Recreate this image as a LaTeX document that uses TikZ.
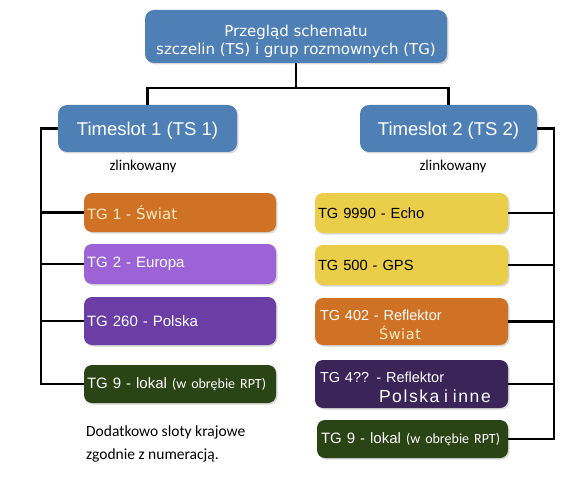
\documentclass[tikz,border=0pt]{standalone}
\usepackage{fontspec}
\setmainfont{Liberation Sans}
\newfontfamily\dejavu{DejaVu Sans}
\newfontfamily\carlito{Carlito}
\usetikzlibrary{shadows}
\definecolor{boxblue}{RGB}{79,128,181}
\definecolor{boxorange}{RGB}{207,114,38}
\definecolor{boxlpurple}{RGB}{156,99,214}
\definecolor{boxpurple}{RGB}{106,62,165}
\definecolor{boxdpurple}{RGB}{59,36,88}
\definecolor{boxgreen}{RGB}{43,68,22}
\definecolor{boxyellow}{RGB}{234,205,72}
\definecolor{cream}{RGB}{250,235,190}
\newcommand\lowerby[2]{\raisebox{-#1}[\height][\depth]{#2}}
\tikzset{
  x=1pt, y=-1pt,
  shadowed/.style={drop shadow={opacity=0.3, shadow xshift=1.5pt, shadow yshift=-1.5pt}},
  bluebox/.style={shadowed, rectangle, rounded corners=9pt, fill=boxblue, text=white, inner sep=0pt, align=center},
  tgbox/.style={shadowed, rectangle, rounded corners=8pt, inner xsep=3pt, inner ysep=0pt, align=left,
    font=\fontsize{15}{19}\selectfont, text=white},
  conn/.style={draw=black, line width=2.2pt},
  note/.style={inner sep=0pt, font=\carlito\fontsize{15}{18}\selectfont, align=left}
}
\begin{document}
\begin{tikzpicture}
\useasboundingbox (0,0) rectangle (588,481);
\fill[white] (0,0) rectangle (588,481);

% top box
\node[bluebox, minimum width=302pt, minimum height=53pt,
      font=\dejavu\fontsize{15}{18}\selectfont] (top) at (296,36.5)
  {\lowerby{5pt}{\parbox{300pt}{\centering Przegląd schematu\\ szczelin (TS) i grup rozmownych (TG)}}};

% timeslot boxes
\node[bluebox, minimum width=179pt, minimum height=47pt, font=\fontsize{18.5}{22}\selectfont] (ts1) at (147.5,128.5) {\lowerby{2.5pt}{Timeslot 1 (TS 1)}};
\node[bluebox, minimum width=177pt, minimum height=47pt, font=\fontsize{18.5}{22}\selectfont] (ts2) at (448.5,128.5) {\lowerby{2.5pt}{Timeslot 2 (TS 2)}};

\node[note] (zl1) at (143,167) {zlinkowany};
\node[note] (zl2) at (453,167) {zlinkowany};

% left column
\node[tgbox, fill=boxorange, minimum width=192pt, minimum height=39pt, text width=186pt, text=cream] (tg1) at (180,212.5)
  {TG 1 - {\dejavu Świat}};
\node[tgbox, fill=boxlpurple, minimum width=192pt, minimum height=40pt, text width=186pt] (tg2) at (180,264)
  {TG 2 - Europa};
\node[tgbox, fill=boxpurple, minimum width=192pt, minimum height=48pt, text width=186pt] (tg260) at (180,321)
  {TG 260 - Polska};
\node[tgbox, fill=boxgreen, minimum width=192pt, minimum height=38pt, text width=186pt] (tg9l) at (180,384)
  {TG 9 - lokal {\carlito\fontsize{14}{16}\selectfont(w obrębie RPT)}};

\node[note, anchor=west, font=\carlito\fontsize{15.5}{23}\selectfont] (dod) at (86,443.5)
  {Dodatkowo sloty krajowe\\zgodnie z numeracją.};

% right column
\node[tgbox, fill=boxyellow, minimum width=193pt, minimum height=40pt, text width=187pt, text=black,
      font=\fontsize{14.7}{18}\selectfont] (tg9990) at (411.5,213)
  {TG 9990 - Echo};
\node[tgbox, fill=boxyellow, minimum width=193pt, minimum height=40pt, text width=187pt, text=black,
      font=\fontsize{14.7}{18}\selectfont] (tg500) at (411.5,265)
  {TG 500 - GPS};
\node[tgbox, fill=boxorange, minimum width=193pt, minimum height=47pt, text width=183pt, inner xsep=5pt,
      font=\fontsize{14.5}{19}\selectfont] (tg402) at (411.5,321.5)
  {\lowerby{3.5pt}{\parbox{183pt}{TG 402 - Reflektor\\ \hspace*{59pt}{\dejavu\addfontfeature{LetterSpace=4}\color{cream}Świat}}}};
\node[tgbox, fill=boxdpurple, minimum width=193pt, minimum height=48pt, text width=183pt, inner xsep=5pt,
      font=\fontsize{14.5}{20}\selectfont] (tg4) at (411.5,384)
  {\lowerby{3pt}{\parbox{183pt}{TG 4?? - Reflektor\\ \hspace*{59pt}{\fontsize{17.5}{20}\selectfont\addfontfeature{LetterSpace=9}Polska i inne}}}};
\node[tgbox, fill=boxgreen, minimum width=191pt, minimum height=38pt, text width=183pt, inner xsep=4pt] (tg9r) at (412.5,439)
  {TG 9 - lokal {\carlito\fontsize{14}{16}\selectfont(w obrębie RPT)}};

% connectors
\coordinate (hub) at (296,88);
\coordinate (lb) at (41,0);
\coordinate (rb) at (554,0);
\draw[conn] (top.south) -- (hub);
\draw[conn] (hub) -| (ts1.north);
\draw[conn] (hub) -| (ts2.north);

\draw[conn] (ts1.west) -| (lb |- tg9l.west) -- (tg9l.west);
\draw[conn] (lb |- tg1.west) -- (tg1.west);
\draw[conn] (lb |- tg2.west) -- (tg2.west);
\draw[conn] (lb |- tg260.west) -- (tg260.west);

\draw[conn] (ts2.east) -| (rb |- tg9r.east) -- (tg9r.east);
\draw[conn] (rb |- tg9990.east) -- (tg9990.east);
\draw[conn] (rb |- tg500.east) -- (tg500.east);
\draw[conn] (rb |- tg402.east) -- (tg402.east);
\draw[conn] (rb |- tg4.east) -- (tg4.east);
\end{tikzpicture}
\end{document}
